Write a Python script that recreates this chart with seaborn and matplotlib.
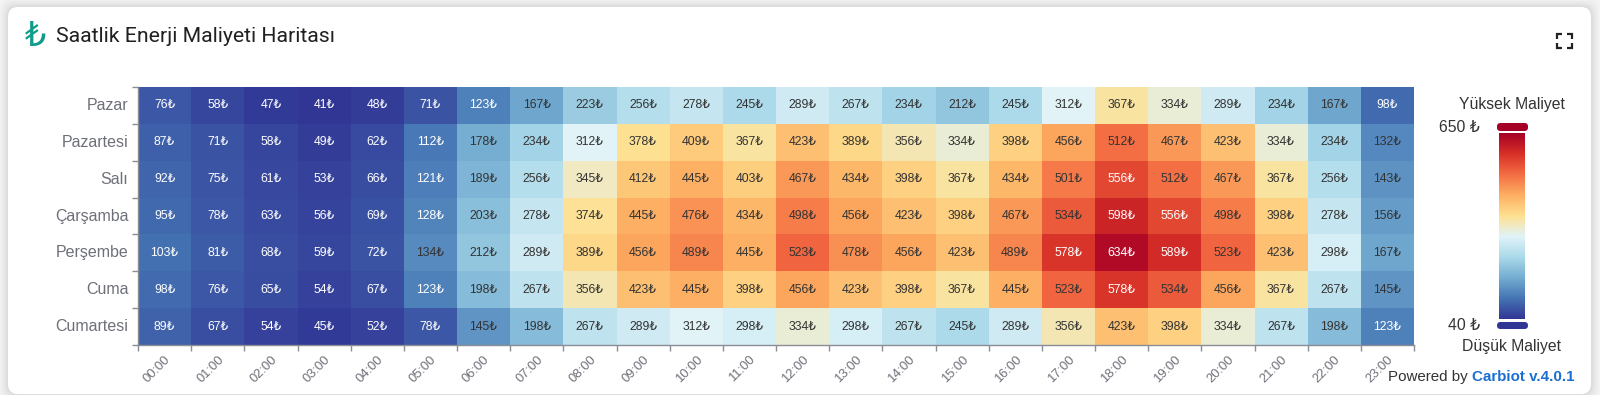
import matplotlib
matplotlib.use('Agg')
import matplotlib.pyplot as plt
from matplotlib.colors import LinearSegmentedColormap
from matplotlib.lines import Line2D
from matplotlib.patches import FancyBboxPatch
from matplotlib.transforms import Affine2D
import pandas as pd
import seaborn as sns

days = ['Pazar', 'Pazartesi', 'Salı', 'Çarşamba', 'Perşembe', 'Cuma', 'Cumartesi']
hours = ['00:00', '01:00', '02:00', '03:00', '04:00', '05:00', '06:00', '07:00',
         '08:00', '09:00', '10:00', '11:00', '12:00', '13:00', '14:00', '15:00',
         '16:00', '17:00', '18:00', '19:00', '20:00', '21:00', '22:00', '23:00']

pazar = [76, 58, 47, 41, 48, 71, 123, 167, 223, 256, 278, 245, 289, 267, 234, 212, 245, 312, 367, 334, 289, 234, 167, 98]
pazartesi = [87, 71, 58, 49, 62, 112, 178, 234, 312, 378, 409, 367, 423, 389, 356, 334, 398, 456, 512, 467, 423, 334, 234, 132]
sali = [92, 75, 61, 53, 66, 121, 189, 256, 345, 412, 445, 403, 467, 434, 398, 367, 434, 501, 556, 512, 467, 367, 256, 143]
carsamba = [95, 78, 63, 56, 69, 128, 203, 278, 374, 445, 476, 434, 498, 456, 423, 398, 467, 534, 598, 556, 498, 398, 278, 156]
persembe = [103, 81, 68, 59, 72, 134, 212, 289, 389, 456, 489, 445, 523, 478, 456, 423, 489, 578, 634, 589, 523, 423, 298, 167]
cuma = [98, 76, 65, 54, 67, 123, 198, 267, 356, 423, 445, 398, 456, 423, 398, 367, 445, 523, 578, 534, 456, 367, 267, 145]
cumartesi = [89, 67, 54, 45, 52, 78, 145, 198, 267, 289, 312, 298, 334, 298, 267, 245, 289, 356, 423, 398, 334, 267, 198, 123]

cost_min = 40
cost_max = 650
palette = ['#313695', '#4575b4', '#74add1', '#abd9e9', '#e0f3f8',
           '#fee090', '#fdae61', '#f46d43', '#d73027', '#a50026']

W, H = 1600, 395
FONT = ['Liberation Sans', 'DejaVu Sans']
plt.rcParams['font.family'] = FONT


def fx(x):
    return x / W


def fy(y):
    return 1 - y / H


fig = plt.figure(figsize=(W / 100, H / 100), dpi=100, facecolor='#f4f4f4')

# card with a soft shadow, in pixels
to_px = Affine2D().scale(1, -1).translate(0, H)
for grow, a in [(8, 0.015), (6, 0.02), (4, 0.025), (2, 0.03)]:
    fig.patches.append(FancyBboxPatch((8 - grow, 7 - grow), 1583 + 2 * grow, 387 + 2 * grow,
                                      boxstyle='round,pad=0,rounding_size=12', fc='black', ec='none',
                                      alpha=a, transform=to_px, zorder=-2))
fig.patches.append(FancyBboxPatch((8, 7), 1583, 387, boxstyle='round,pad=0,rounding_size=10',
                                  fc='white', ec='none', transform=to_px, zorder=-1))

df = pd.DataFrame([pazar, pazartesi, sali, carsamba, persembe, cuma, cumartesi], index=days, columns=hours)
labels = df.map(lambda v: f'{v}₺')
cmap = LinearSegmentedColormap.from_list('cost', palette)

ax = fig.add_axes([fx(138), fy(345), (1414 - 138) / W, (345 - 87) / H])
cax = fig.add_axes([fx(1499), fy(319), 26 / W, (319 - 133) / H])
sns.heatmap(df, ax=ax, cbar_ax=cax, cmap=cmap, vmin=cost_min, vmax=cost_max, annot=labels, fmt='',
            annot_kws={'fontsize': 8.8, 'family': FONT})

for t, v in zip(ax.texts, df.values.ravel()):
    t.set_color('white' if v < 130 or v > 550 else '#333333')

# ticks sit on cell edges, labels in the cell middle
ax.set_xticks(range(25), minor=True)
ax.set_yticks(range(8), minor=True)
ax.tick_params(which='minor', length=4.5, width=1, color='#8a8d96')
ax.tick_params(which='major', length=0)
ax.set_xlabel('')
ax.set_ylabel('')
ax.set_yticklabels(days, rotation=0, fontsize=11.5, color='#6E7079')
ax.tick_params(axis='y', which='major', pad=7)
ax.tick_params(axis='x', which='major', pad=6)
ax.set_xticklabels(hours, rotation=45, ha='right', va='top', rotation_mode='anchor',
                   fontsize=9.4, color='#6E7079')
for side in ['left', 'bottom']:
    ax.spines[side].set_visible(True)
    ax.spines[side].set_color('#8a8d96')
    ax.spines[side].set_linewidth(1)

cax.set_yticks([])
cax.tick_params(length=0)
for s in cax.spines.values():
    s.set_visible(False)

# colour bar handles
fig.patches.append(FancyBboxPatch((1497, 123), 31, 8, boxstyle='round,pad=0,rounding_size=3.5',
                                  fc=palette[-1], ec='none', transform=to_px, zorder=3))
fig.patches.append(FancyBboxPatch((1497, 322), 31, 7, boxstyle='round,pad=0,rounding_size=3.5',
                                  fc=palette[0], ec='none', transform=to_px, zorder=3))

fig.text(fx(1512), fy(105), 'Yüksek Maliyet', ha='center', va='center', fontsize=11.3, color='#333333')
fig.text(fx(1512), fy(346), 'Düşük Maliyet', ha='center', va='center', fontsize=11.3, color='#333333')
fig.text(fx(1480), fy(127), f'{cost_max} ₺', ha='right', va='center', fontsize=11.3, color='#333333')
fig.text(fx(1480), fy(325), f'{cost_min} ₺', ha='right', va='center', fontsize=11.3, color='#333333')

# header
fig.text(fx(56), fy(36), 'Saatlik Enerji Maliyeti Haritası', ha='left', va='center',
         fontsize=15.3, color='#212121', family='Roboto')
fig.text(fx(36), fy(36), '₺', ha='center', va='center', fontsize=24,
         color='#0f9d8a', family='DejaVu Sans')

# fullscreen icon
for x0, y0, dx, dy in [(1557, 34, 1, 1), (1572, 34, -1, 1), (1557, 48, 1, -1), (1572, 48, -1, -1)]:
    fig.add_artist(Line2D([fx(x0), fx(x0), fx(x0 + 5 * dx)], [fy(y0 + 5 * dy), fy(y0), fy(y0)],
                          color='#222222', lw=1.6, solid_capstyle='butt', solid_joinstyle='miter'))

fig.text(fx(1468), fy(377), 'Powered by', ha='right', va='center', fontsize=10.9, color='#333333')
fig.text(fx(1575), fy(377), 'Carbiot v.4.0.1', ha='right', va='center', fontsize=10.9,
         fontweight='bold', color='#1a6fd0')

fig.savefig('out.png', dpi=100, facecolor=fig.get_facecolor())
